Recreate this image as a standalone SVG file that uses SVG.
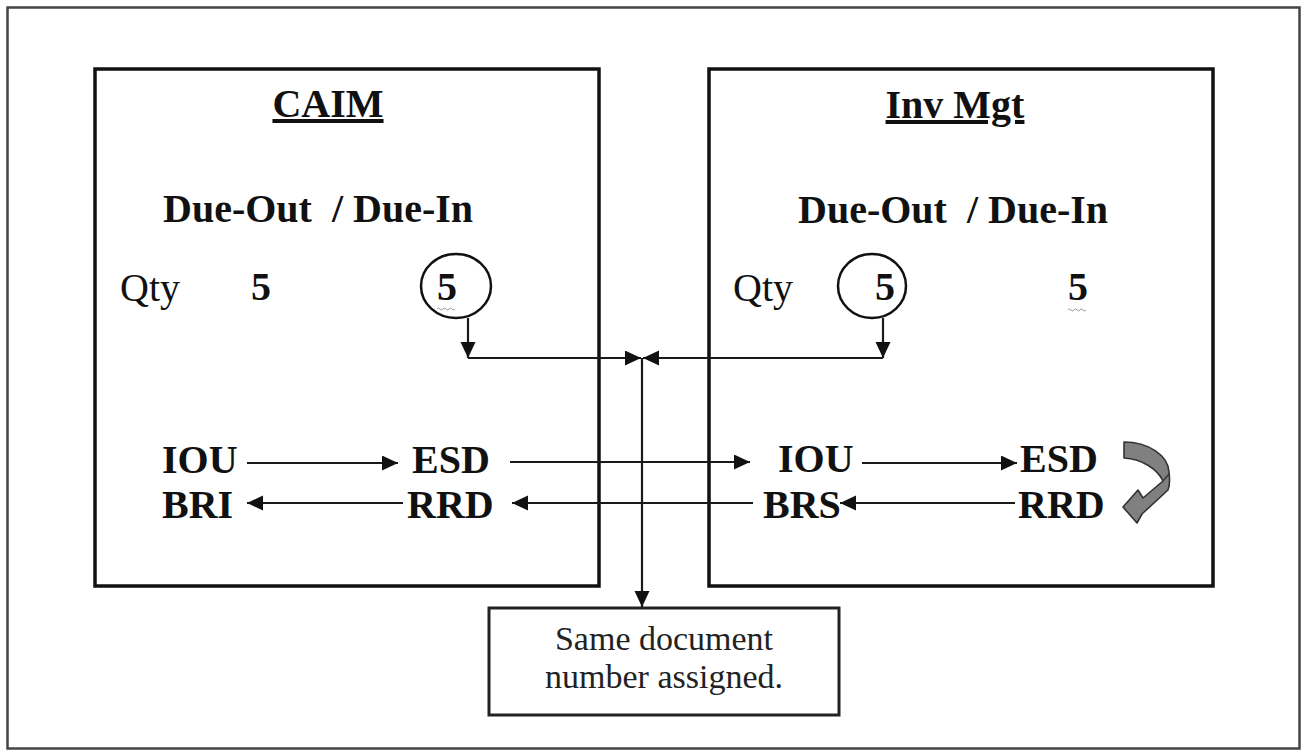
<svg xmlns="http://www.w3.org/2000/svg" width="1306" height="751" viewBox="0 0 1306 751">
<defs>
<marker id="ah" markerUnits="userSpaceOnUse" markerWidth="18" markerHeight="16" refX="16" refY="7.5" orient="auto">
<path d="M0,0 L16,7.5 L0,15 Z" fill="#111"/>
</marker>
<style>
.b{font-family:"Liberation Serif","Times New Roman",serif;font-weight:bold;font-size:40px;fill:#111}
.r{font-family:"Liberation Serif","Times New Roman",serif;font-size:40px;fill:#111}
.n{font-family:"Liberation Serif","Times New Roman",serif;font-size:34px;fill:#222;text-anchor:middle}
.box{fill:none;stroke:#111;stroke-width:3.5}
.ln{fill:none;stroke:#1a1a1a;stroke-width:2.2}
.sq{fill:none;stroke:#999;stroke-width:1}
</style>
</defs>
<rect width="1306" height="751" fill="#fff"/>
<rect x="7.5" y="7.5" width="1292" height="741" fill="none" stroke="#444" stroke-width="2.5"/>

<g id="caim">
<rect class="box" x="95" y="69" width="504" height="517"/>
<text class="b" x="328" y="117" text-anchor="middle" text-decoration="underline">CAIM</text>
<text class="b" x="163" y="222" xml:space="preserve">Due-Out  / Due-In</text>
<text class="r" x="120" y="301">Qty</text>
<text class="b" x="251" y="300">5</text>
<ellipse cx="456" cy="286" rx="35" ry="32" fill="none" stroke="#111" stroke-width="2.5"/>
<text class="b" x="437" y="300">5</text>
<path class="sq" d="M437,309 q1.5,-2 3,0 t3,0 t3,0 t3,0 t3,0 t3,0"/>
<text class="b" x="162" y="473">IOU</text>
<text class="b" x="412" y="473">ESD</text>
<text class="b" x="162" y="518">BRI</text>
<text class="b" x="407" y="518">RRD</text>
</g>

<g id="invmgt">
<rect class="box" x="709" y="69" width="504" height="517"/>
<text class="b" x="955" y="118" text-anchor="middle" text-decoration="underline">Inv Mgt</text>
<text class="b" x="798" y="223" xml:space="preserve">Due-Out  / Due-In</text>
<text class="r" x="733" y="301">Qty</text>
<ellipse cx="872" cy="286" rx="34" ry="32" fill="none" stroke="#111" stroke-width="2.5"/>
<text class="b" x="875" y="300">5</text>
<text class="b" x="1068" y="300">5</text>
<path class="sq" d="M1068,310 q1.5,-2 3,0 t3,0 t3,0 t3,0 t3,0 t3,0"/>
<text class="b" x="778" y="472">IOU</text>
<text class="b" x="1020" y="472">ESD</text>
<text class="b" x="763" y="518">BRS</text>
<text class="b" x="1018" y="518">RRD</text>
<path d="M1124,442 C1148,442 1168,455 1169,472 C1170,480 1170,485 1168,490 L1142,514 L1137,523 L1123,507 L1138,490 L1143,498 L1163,481 C1158,470 1143,459 1124,458 Z" fill="#808080" stroke="#333" stroke-width="1.6" stroke-linejoin="round"/>
<path d="M1163,481 L1169,474" fill="none" stroke="#333" stroke-width="1.2"/>
</g>

<g id="note">
<rect x="489" y="608" width="350" height="107" fill="#fff" stroke="#222" stroke-width="3"/>
<text class="n" x="664" y="650">Same document</text>
<text class="n" x="664" y="688">number assigned.</text>
</g>

<g id="connectors">
<line class="ln" x1="468" y1="318" x2="468" y2="358" marker-end="url(#ah)"/>
<line class="ln" x1="468" y1="358" x2="641" y2="358" marker-end="url(#ah)"/>
<line class="ln" x1="883" y1="318" x2="883" y2="358" marker-end="url(#ah)"/>
<line class="ln" x1="883" y1="358" x2="643" y2="358" marker-end="url(#ah)"/>
<line class="ln" x1="642" y1="358" x2="642" y2="607" marker-end="url(#ah)"/>
<line class="ln" x1="247" y1="463" x2="398" y2="463" marker-end="url(#ah)"/>
<line class="ln" x1="403" y1="503" x2="247" y2="503" marker-end="url(#ah)"/>
<line class="ln" x1="510" y1="462" x2="750" y2="462" marker-end="url(#ah)"/>
<line class="ln" x1="753" y1="503" x2="512" y2="503" marker-end="url(#ah)"/>
<line class="ln" x1="862" y1="463" x2="1017" y2="463" marker-end="url(#ah)"/>
<line class="ln" x1="1015" y1="503" x2="840" y2="503" marker-end="url(#ah)"/>
</g>
</svg>
